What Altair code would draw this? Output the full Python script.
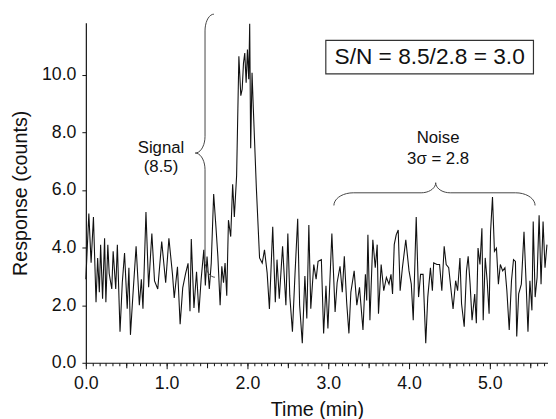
import altair as alt
import pandas as pd
import numpy as np

# ---- data ----
time_min = [
    0.000, 0.037, 0.065, 0.094, 0.126, 0.146, 0.167, 0.183, 0.207, 0.232,
    0.248, 0.272, 0.289, 0.321, 0.338, 0.370, 0.390, 0.423, 0.451, 0.479,
    0.512, 0.533, 0.552, 0.582, 0.622, 0.662, 0.687, 0.707, 0.744, 0.777,
    0.817, 0.850, 0.890, 0.939, 0.988, 1.028, 1.073, 1.094, 1.134, 1.167,
    1.199, 1.235, 1.265, 1.289, 1.305, 1.338, 1.370, 1.399, 1.427, 1.460,
    1.479, 1.500, 1.528, 1.552, 1.582, 1.610, 1.634, 1.662, 1.683, 1.704,
    1.723, 1.744, 1.765, 1.793, 1.817, 1.838, 1.866, 1.894, 1.918, 1.935,
    1.951, 1.967, 1.984, 2.000, 2.016, 2.028, 2.040, 2.057, 2.073, 2.110,
    2.150, 2.183, 2.211, 2.244, 2.272, 2.313, 2.345, 2.366, 2.394, 2.435,
    2.476, 2.500, 2.524, 2.557, 2.589, 2.622, 2.646, 2.679, 2.711, 2.735,
    2.760, 2.784, 2.821, 2.850, 2.874, 2.915, 2.943, 2.972, 2.996, 3.045,
    3.085, 3.110, 3.146, 3.174, 3.199, 3.228, 3.256, 3.280, 3.321, 3.354,
    3.387, 3.430, 3.460, 3.476, 3.491, 3.516, 3.552, 3.582, 3.606, 3.622,
    3.655, 3.687, 3.720, 3.752, 3.777, 3.796, 3.817, 3.841, 3.866, 3.890,
    3.918, 3.960, 4.000, 4.028, 4.052, 4.089, 4.118, 4.143, 4.174, 4.207,
    4.232, 4.265, 4.289, 4.305, 4.345, 4.378, 4.406, 4.435, 4.460, 4.491,
    4.521, 4.545, 4.577, 4.601, 4.630, 4.650, 4.683, 4.711, 4.732, 4.756,
    4.780, 4.813, 4.833, 4.854, 4.878, 4.902, 4.918, 4.943, 4.967, 4.991,
    5.009, 5.033, 5.057, 5.082, 5.106, 5.130, 5.159, 5.187, 5.211, 5.240,
    5.268, 5.293, 5.317, 5.333, 5.357, 5.390, 5.423, 5.448, 5.472, 5.496,
    5.521, 5.537, 5.561, 5.585, 5.610, 5.634, 5.659, 5.683, 5.707,
]
response = [
    2.90, 5.18, 3.47, 5.06, 2.10, 3.64, 2.45, 4.10, 2.22, 4.32,
    2.10, 4.10, 3.10, 2.56, 3.87, 2.56, 4.10, 1.08, 2.78, 3.81,
    1.88, 3.30, 0.97, 2.33, 4.04, 2.00, 2.90, 1.88, 5.23, 2.62,
    4.49, 2.84, 2.56, 4.21, 2.78, 4.32, 3.05, 2.25, 3.33, 1.34,
    2.60, 3.10, 3.45, 1.79, 4.30, 1.90, 3.16, 1.74, 2.90, 3.92,
    2.68, 3.69, 2.56, 3.46, 5.86, 4.72, 3.69, 2.00, 3.35, 2.78,
    3.46, 2.33, 4.95, 4.38, 6.20, 5.06, 6.50, 10.64, 9.27, 9.50,
    10.40, 10.75, 9.72, 10.87, 9.84, 11.77, 7.45, 10.07, 8.82, 6.09,
    3.64, 3.46, 3.92, 3.12, 1.87, 4.72, 2.10, 3.58, 2.22, 4.04,
    2.00, 4.49, 2.33, 1.08, 3.10, 5.00, 2.00, 0.68, 3.01, 1.54,
    4.78, 1.88, 3.41, 2.90, 3.52, 3.58, 1.02, 2.67, 1.19, 4.49,
    1.76, 2.78, 3.35, 2.45, 3.70, 2.10, 1.02, 2.45, 3.19, 2.00,
    2.62, 1.14, 3.07, 2.16, 4.44, 1.48, 4.27, 3.30, 4.10, 1.70,
    3.41, 2.50, 2.96, 2.73, 3.07, 2.39, 4.10, 4.44, 4.61, 2.50,
    3.30, 4.27, 3.19, 2.73, 1.48, 5.06, 2.28, 3.07, 3.07, 0.68,
    2.28, 3.30, 2.50, 3.47, 3.41, 3.41, 2.50, 4.04, 3.41, 3.30,
    2.50, 1.87, 2.85, 2.50, 3.64, 2.05, 1.25, 3.19, 3.70, 2.73,
    1.48, 2.39, 1.37, 3.98, 3.41, 4.67, 1.48, 3.64, 2.85, 1.70,
    4.55, 5.75, 3.87, 3.98, 2.73, 3.41, 3.19, 3.30, 2.50, 1.14,
    2.85, 3.58, 3.52, 0.91, 2.39, 2.73, 4.55, 2.85, 1.08, 2.85,
    1.82, 4.90, 2.28, 2.96, 5.12, 2.73, 4.90, 3.30, 4.10,
]

x_major_ticks = [0.0, 1.0, 2.0, 3.0, 4.0, 5.0]
x_half_ticks = [0.5, 1.5, 2.5, 3.5, 4.5, 5.5]
x_minor_ticks = [round(i / 12, 4) for i in range(0, 69)]
y_tick_values = list(range(0, 12))

annot_labels = ["Signal", "(8.5)", "Noise", "3\u03c3 = 2.8"]
annot_t = [0.93, 0.93, 4.36, 4.36]
annot_v = [7.47, 6.79, 7.81, 7.06]

box_label = "S/N = 8.5/2.8 = 3.0"

FONT = "Liberation Sans"

# ---- brace paths (annotation geometry) ----
def arc(cx, cy, rx, ry, a0, a1, n=10):
    a = np.radians(np.linspace(a0, a1, n))
    return list(zip(cx + rx * np.cos(a), cy + ry * np.sin(a)))

# vertical "{" for the signal
vx, vtip_x, vtop, vbot, vtip = 1.475, 1.354, 12.1, 2.97, 7.28
ry_v = 0.58
sig_pts = []
sig_pts += arc(vx + 0.11, vtop - ry_v, 0.11, ry_v, 90, 180)
sig_pts += arc(vtip_x, vtip + ry_v, vx - vtip_x, ry_v, 0, -90)
sig_pts += arc(vtip_x, vtip - ry_v, vx - vtip_x, ry_v, 90, 0)
sig_pts += arc(vx + 0.122, vbot + ry_v, 0.122, ry_v, 180, 270)

# horizontal brace for the noise
hl, hr, hline, hend, htip_t, htip_v = 3.07, 5.56, 5.9, 5.46, 4.33, 6.25
rx_e, rx_t = 0.24, 0.18
noi_pts = []
noi_pts += arc(hl + rx_e, hend, rx_e, hline - hend, 180, 90)
noi_pts += arc(htip_t - rx_t, htip_v, rx_t, htip_v - hline, 270, 360)
noi_pts += arc(htip_t + rx_t, htip_v, rx_t, htip_v - hline, 180, 270)
noi_pts += arc(hr - rx_e, hend, rx_e, hline - hend, 90, 0)

rows = []
for g, pts in (("signal", sig_pts), ("noise", noi_pts)):
    for i, (x, y) in enumerate(pts):
        rows.append({"t": float(x), "v": float(y), "o": i, "g": g})
brace_df = pd.DataFrame(rows)

trace_df = pd.DataFrame({"t": time_min, "v": response})
annot_df = pd.DataFrame({"t": annot_t, "v": annot_v, "label": annot_labels})
box_df = pd.DataFrame({"t": [2.97], "t2": [5.54], "v": [10.03], "v2": [11.19],
                       "tc": [4.255], "vc": [10.61], "label": [box_label]})
tick_df = pd.DataFrame({"t": [0.0, 5.7], "v": [0.0, 0.0]})

x_scale = alt.Scale(domain=[0, 5.72], nice=False, zero=False)
y_scale = alt.Scale(domain=[0, 11.8], nice=False)

x_axis = alt.Axis(
    title="Time (min)", values=x_major_ticks, format=".1f", orient="bottom",
    labelFlush=False, grid=False, tickSize=6,
    labelPadding=6, titlePadding=7,
)
x_axis_half = alt.Axis(
    title=None, values=x_half_ticks, labels=False, domain=False, orient="bottom",
    grid=False, tickSize=5,
)
x_axis_minor = alt.Axis(
    title=None, values=x_minor_ticks, labels=False, domain=False, orient="bottom",
    grid=False, tickSize=3,
)
y_axis = alt.Axis(
    title="Response (counts)", values=y_tick_values,
    labelExpr="datum.value % 2 == 0 ? format(datum.value, '.1f') : ''",
    labelFlush=False, labelOverlap=False, grid=False, tickSize=4,
    labelPadding=6, titlePadding=11,
)

trace = alt.Chart(trace_df).mark_line(color="#111111", strokeWidth=1.1).encode(
    x=alt.X("t:Q", scale=x_scale, axis=x_axis),
    y=alt.Y("v:Q", scale=y_scale, axis=y_axis),
)

minor = alt.Chart(tick_df).mark_point(opacity=0).encode(
    x=alt.X("t:Q", scale=x_scale, axis=x_axis_minor),
    y=alt.Y("v:Q"),
)
half = alt.Chart(tick_df).mark_point(opacity=0).encode(
    x=alt.X("t:Q", scale=x_scale, axis=x_axis_half),
    y=alt.Y("v:Q"),
)

braces = alt.Chart(brace_df).mark_line(color="#444444", strokeWidth=1.0).encode(
    x=alt.X("t:Q", axis=None), y="v:Q", order="o:Q", detail="g:N"
)

texts = alt.Chart(annot_df).mark_text(
    font=FONT, fontSize=17, color="#111111", align="center", baseline="middle"
).encode(x=alt.X("t:Q", axis=None), y="v:Q", text="label:N")

box = alt.Chart(box_df).mark_rect(fill="white", stroke="#333333", strokeWidth=1.2).encode(
    x=alt.X("t:Q", axis=None), x2="t2:Q", y="v:Q", y2="v2:Q"
)
box_text = alt.Chart(box_df).mark_text(
    font=FONT, fontSize=23, color="#111111", align="center", baseline="middle"
).encode(x=alt.X("tc:Q", axis=None), y="vc:Q", text="label:N")

chart = alt.layer(trace, minor, half, braces, texts, box, box_text).resolve_axis(
    x="independent"
).properties(
    width=469, height=345,
    autosize=alt.AutoSizeParams(type="none"),
    padding={"left": 79, "top": 12, "right": 0, "bottom": 54},
).configure_view(stroke=None).configure_axis(
    labelFont=FONT, titleFont=FONT, labelFontSize=18, titleFontSize=20,
    titleFontWeight="normal", labelColor="#111111", titleColor="#111111",
    domainColor="#111111", tickColor="#111111", domainWidth=1.2,
)

chart.save("out.html", embed_options={"renderer": "svg", "actions": False})
